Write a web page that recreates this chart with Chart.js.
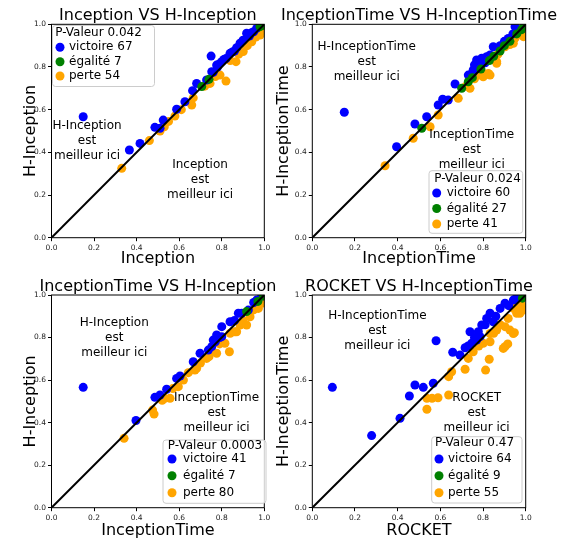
<!DOCTYPE html>
<html>
<head>
<meta charset="utf-8">
<script src="https://cdn.jsdelivr.net/npm/chart.js@4.4.0/dist/chart.umd.min.js"></script>
<style>
  body { margin: 0; background: #fff; }
  #wrap { position: relative; width: 565px; height: 542px; }
  #wrap canvas { position: absolute; }
</style>
</head>
<body>
<div id="wrap">
  <canvas id="c1" width="282" height="270" style="left:0px;top:0px"></canvas>
  <canvas id="c2" width="295" height="270" style="left:270px;top:0px"></canvas>
  <canvas id="c3" width="282" height="272" style="left:0px;top:270px"></canvas>
  <canvas id="c4" width="295" height="272" style="left:270px;top:270px"></canvas>
</div>
<script>
// panel texts
const titles = ['Inception VS H-Inception', 'InceptionTime VS H-InceptionTime',
                'InceptionTime VS H-Inception', 'ROCKET VS H-InceptionTime'];
const xLabels = ['Inception', 'InceptionTime', 'InceptionTime', 'ROCKET'];
const yLabels = ['H-Inception', 'H-InceptionTime', 'H-Inception', 'H-InceptionTime'];
const pValues = ['0.042', '0.024', '0.0003', '0.47'];
const nVictoire = [67, 60, 41, 64];
const nEgalite = [7, 27, 7, 9];
const nPerte = [54, 41, 80, 55];
const axisTicks = [0, 0.2, 0.4, 0.6, 0.8, 1.0];
const diagonal = [[0, 0], [1, 1]];

// Inception VS H-Inception
const p1Victoire = [[0.149,0.567],[0.366,0.411],[0.416,0.442],[0.486,0.517],[0.51,0.513],[0.525,0.551],
  [0.588,0.602],[0.627,0.637],[0.663,0.689],[0.682,0.723],[0.729,0.739],[0.753,0.778],[0.75,0.851],
  [0.76,0.775],[0.776,0.809],[0.78,0.8],[0.79,0.815],[0.8,0.825],[0.81,0.835],[0.82,0.84],[0.839,0.864],
  [0.85,0.87],[0.86,0.875],[0.87,0.89],[0.886,0.911],[0.9,0.925],[0.917,0.958],[0.93,0.945],[0.94,0.96],
  [0.95,0.965],[0.964,0.981],[0.98,0.995]];
const p1Egalite = [[0.706,0.708],[0.74,0.742],[0.98,0.989],[0.995,0.995]];
const p1Perte = [[0.33,0.325],[0.46,0.455],[0.51,0.5],[0.53,0.52],[0.55,0.545],[0.58,0.57],[0.61,0.6],
  [0.659,0.622],[0.666,0.655],[0.72,0.71],[0.745,0.723],[0.77,0.755],[0.792,0.762],[0.82,0.734],
  [0.84,0.83],[0.867,0.825],[0.88,0.86],[0.901,0.872],[0.92,0.9],[0.941,0.918],[0.96,0.94],[0.98,0.95],[0.99,0.97]];

// InceptionTime VS H-InceptionTime
const p2Victoire = [[0.15,0.588],[0.395,0.426],[0.481,0.533],[0.536,0.567],[0.59,0.622],[0.611,0.649],
  [0.637,0.645],[0.669,0.72],[0.731,0.762],[0.75,0.77],[0.754,0.786],[0.76,0.81],[0.77,0.833],[0.78,0.82],
  [0.786,0.801],[0.794,0.841],[0.8,0.83],[0.81,0.82],[0.817,0.848],[0.833,0.856],[0.848,0.895],[0.88,0.9],
  [0.9,0.92],[0.918,0.934],[0.94,0.955],[0.95,0.989],[0.96,0.975]];
const p2Egalite = [[0.513,0.513],[0.70,0.70],[0.731,0.731],[0.75,0.75],[0.79,0.79],[0.83,0.83],[0.85,0.85],
  [0.88,0.875],[0.9,0.9],[0.926,0.92],[0.958,0.955],[0.981,0.975],[0.99,0.99]];
const p2Perte = [[0.341,0.337],[0.473,0.466],[0.552,0.52],[0.59,0.575],[0.684,0.653],[0.72,0.71],[0.739,0.70],
  [0.76,0.745],[0.786,0.762],[0.794,0.778],[0.801,0.754],[0.825,0.77],[0.833,0.762],[0.864,0.825],
  [0.864,0.817],[0.87,0.86],[0.903,0.895],[0.926,0.905],[0.942,0.911],[0.95,0.935],[0.97,0.96],
  [0.989,0.942],[0.99,0.975]];

// InceptionTime VS H-Inception
const p3Victoire = [[0.149,0.566],[0.397,0.41],[0.486,0.519],[0.51,0.53],[0.541,0.557],[0.588,0.608],
  [0.604,0.619],[0.666,0.686],[0.698,0.726],[0.737,0.741],[0.753,0.757],[0.76,0.788],[0.77,0.78],
  [0.776,0.812],[0.79,0.8],[0.80,0.804],[0.80,0.851],[0.839,0.874],[0.86,0.88],[0.878,0.914],
  [0.894,0.914],[0.925,0.929],[0.95,0.965],[0.964,0.976],[0.988,0.995]];
const p3Egalite = [[0.917,0.922],[0.97,0.97],[0.995,0.995]];
const p3Perte = [[0.341,0.326],[0.475,0.459],[0.482,0.44],[0.52,0.505],[0.533,0.514],[0.557,0.514],
  [0.57,0.56],[0.596,0.569],[0.62,0.6],[0.643,0.635],[0.674,0.647],[0.682,0.655],[0.7,0.68],[0.729,0.702],
  [0.74,0.71],[0.75,0.73],[0.776,0.726],[0.79,0.77],[0.815,0.773],[0.836,0.733],[0.84,0.82],[0.862,0.827],
  [0.87,0.827],[0.886,0.859],[0.9,0.88],[0.917,0.859],[0.933,0.898],[0.95,0.93],[0.972,0.937],
  [0.988,0.961],[0.99,0.98]];

// ROCKET VS H-InceptionTime
const p4Victoire = [[0.094,0.566],[0.278,0.339],[0.411,0.42],[0.455,0.525],[0.481,0.577],[0.52,0.566],
  [0.567,0.585],[0.58,0.785],[0.658,0.731],[0.692,0.718],[0.716,0.752],[0.73,0.76],[0.739,0.827],
  [0.747,0.773],[0.76,0.8],[0.77,0.788],[0.778,0.827],[0.786,0.804],[0.794,0.859],[0.81,0.86],
  [0.817,0.89],[0.833,0.914],[0.848,0.874],[0.86,0.9],[0.88,0.937],[0.903,0.961],[0.92,0.95],
  [0.942,0.976],[0.95,0.98],[0.965,0.992],[0.98,1.0]];
const p4Egalite = [[0.985,0.985],[0.99,0.995]];
const p4Perte = [[0.537,0.463],[0.537,0.514],[0.561,0.514],[0.589,0.517],[0.639,0.53],[0.639,0.616],
  [0.653,0.639],[0.716,0.651],[0.731,0.702],[0.754,0.733],[0.78,0.76],[0.801,0.773],[0.812,0.647],
  [0.829,0.698],[0.833,0.78],[0.833,0.819],[0.85,0.82],[0.864,0.835],[0.88,0.86],[0.895,0.749],
  [0.903,0.757],[0.903,0.851],[0.916,0.77],[0.918,0.89],[0.926,0.835],[0.942,0.819],[0.942,0.937],
  [0.947,0.823],[0.958,0.914],[0.96,0.95],[0.973,0.914],[0.981,0.953],[0.99,0.93]];

const victoires = [p1Victoire, p2Victoire, p3Victoire, p4Victoire];
const egalites = [p1Egalite, p2Egalite, p3Egalite, p4Egalite];
const pertes = [p1Perte, p2Perte, p3Perte, p4Perte];

const FONT = 'DejaVu Sans';
const BLUE = '#0000ff', GREEN = '#008000', ORANGE = '#ffa500';

// layout of each panel (pixels inside its canvas, annotation centres in data units)
const layout = [
  {id: 'c1', padTop: 24.3, padRight: 17.7, yW: 51.5, yPad: 21.4, xH: 32.3,
   legend: {x: 52.5, y: 25.5, w: 102, h: 61, tx: 98.5, ty: 33, rows: [47.3, 61.7, 76], mx: 60, lx: 69},
   upper: [0.167, 0.453], lower: [0.698, 0.27]},
  {id: 'c2', padTop: 24.3, padRight: 39.3, yW: 42.3, yPad: 4.4, xH: 32.3,
   legend: {x: 159, y: 170.7, w: 93.7, h: 62.6, tx: 207.5, ty: 179, rows: [193, 208.5, 224], mx: 166.7, lx: 176.7},
   upper: [0.255, 0.823], lower: [0.747, 0.411]},
  {id: 'c3', padTop: 25, padRight: 17.7, yW: 51.5, yPad: 21.4, xH: 34.3,
   legend: {x: 163, y: 170, w: 103, h: 63.3, tx: 215, ty: 175.7, rows: [189, 205.7, 222.7], mx: 172, lx: 183},
   upper: [0.295, 0.798], lower: [0.776, 0.448]},
  {id: 'c4', padTop: 25, padRight: 39.3, yW: 42.3, yPad: 4.4, xH: 34.3,
   legend: {x: 161.7, y: 166.7, w: 90.3, h: 66.3, tx: 204.5, ty: 173.3, rows: [189, 205.7, 222.7], mx: 169, lx: 178},
   upper: [0.305, 0.831], lower: [0.77, 0.448]}
];

function roundBox(ctx, x, y, w, h, r) {
  ctx.beginPath();
  ctx.moveTo(x + r, y);
  ctx.lineTo(x + w - r, y);
  ctx.quadraticCurveTo(x + w, y, x + w, y + r);
  ctx.lineTo(x + w, y + h - r);
  ctx.quadraticCurveTo(x + w, y + h, x + w - r, y + h);
  ctx.lineTo(x + r, y + h);
  ctx.quadraticCurveTo(x, y + h, x, y + h - r);
  ctx.lineTo(x, y + r);
  ctx.quadraticCurveTo(x, y, x + r, y);
  ctx.closePath();
}

function decorPlugin(i) {
  const L = layout[i];
  return {
    id: 'decor' + i,
    afterDraw(chart) {
      const ctx = chart.ctx, a = chart.chartArea;
      const xs = chart.scales.x, ys = chart.scales.y;
      ctx.save();
      // frame
      ctx.strokeStyle = '#000';
      ctx.lineWidth = 1;
      ctx.strokeRect(a.left, a.top, a.right - a.left, a.bottom - a.top);
      // title
      ctx.fillStyle = '#000';
      ctx.font = '16px "' + FONT + '"';
      ctx.textAlign = 'center';
      ctx.textBaseline = 'alphabetic';
      ctx.fillText(titles[i], (a.left + a.right) / 2, a.top - 4);
      // region notes
      ctx.font = '12px "' + FONT + '"';
      ctx.textBaseline = 'middle';
      const notes = [[yLabels[i], L.upper], [xLabels[i], L.lower]];
      notes.forEach(([name, pos]) => {
        const cx = xs.getPixelForValue(pos[0]);
        const cy = ys.getPixelForValue(pos[1]);
        [name, 'est', 'meilleur ici'].forEach((t, k) => ctx.fillText(t, cx, cy + (k - 1) * 15));
      });
      // legend
      const g = L.legend;
      roundBox(ctx, g.x, g.y, g.w, g.h, 3);
      ctx.fillStyle = 'rgba(255,255,255,0.8)';
      ctx.fill();
      ctx.strokeStyle = '#cccccc';
      ctx.stroke();
      ctx.fillStyle = '#000';
      ctx.textAlign = 'center';
      ctx.fillText('P-Valeur ' + pValues[i], g.tx, g.ty);
      const rows = [[BLUE, 'victoire ' + nVictoire[i]], [GREEN, 'égalité ' + nEgalite[i]], [ORANGE, 'perte ' + nPerte[i]]];
      ctx.textAlign = 'left';
      rows.forEach(([c, t], k) => {
        ctx.fillStyle = c;
        ctx.beginPath();
        ctx.arc(g.mx, g.rows[k], 4.5, 0, Math.PI * 2);
        ctx.fill();
        ctx.fillStyle = '#000';
        ctx.fillText(t, g.lx, g.rows[k]);
      });
      ctx.restore();
    }
  };
}

function axis(title, isX, L) {
  return {
    type: 'linear', min: 0, max: 1,
    afterBuildTicks: s => { s.ticks = axisTicks.map(v => ({value: v})); },
    ticks: {
      callback: v => v.toFixed(1), color: '#222', padding: 2,
      font: {family: FONT, size: 7.5}, maxRotation: 0, autoSkip: false
    },
    grid: {drawOnChartArea: false, drawTicks: true, tickLength: 3.5, tickColor: '#000', color: '#000'},
    border: {display: false},
    title: {
      display: true, text: title, color: '#000',
      font: {family: FONT, size: 16},
      padding: isX ? {top: 0, bottom: 1.4} : {top: L.yPad, bottom: 0}
    },
    afterFit: s => { if (isX) s.height = L.xH; else s.width = L.yW; }
  };
}

function scatterSet(label, data, color, order) {
  return {
    type: 'scatter', label: label, data: data, order: order,
    pointRadius: 4.5, pointHoverRadius: 4.5, borderWidth: 0,
    pointBackgroundColor: color, backgroundColor: color, clip: 0
  };
}

layout.forEach((L, i) => {
  new Chart(document.getElementById(L.id), {
    type: 'scatter',
    data: {
      datasets: [
        {type: 'line', label: 'diag', data: diagonal, borderColor: '#000', borderWidth: 2,
         pointRadius: 0, fill: false, order: 0, clip: 0},
        scatterSet('égalité', egalites[i], GREEN, 1),
        scatterSet('victoire', victoires[i], BLUE, 2),
        scatterSet('perte', pertes[i], ORANGE, 3)
      ]
    },
    options: {
      responsive: false,
      animation: false,
      layout: {padding: {top: L.padTop, right: L.padRight, left: 0, bottom: 0}},
      plugins: {legend: {display: false}, tooltip: {enabled: false}},
      scales: {x: axis(xLabels[i], true, L), y: axis(yLabels[i], false, L)}
    },
    plugins: [decorPlugin(i)]
  });
});
</script>
</body>
</html>
